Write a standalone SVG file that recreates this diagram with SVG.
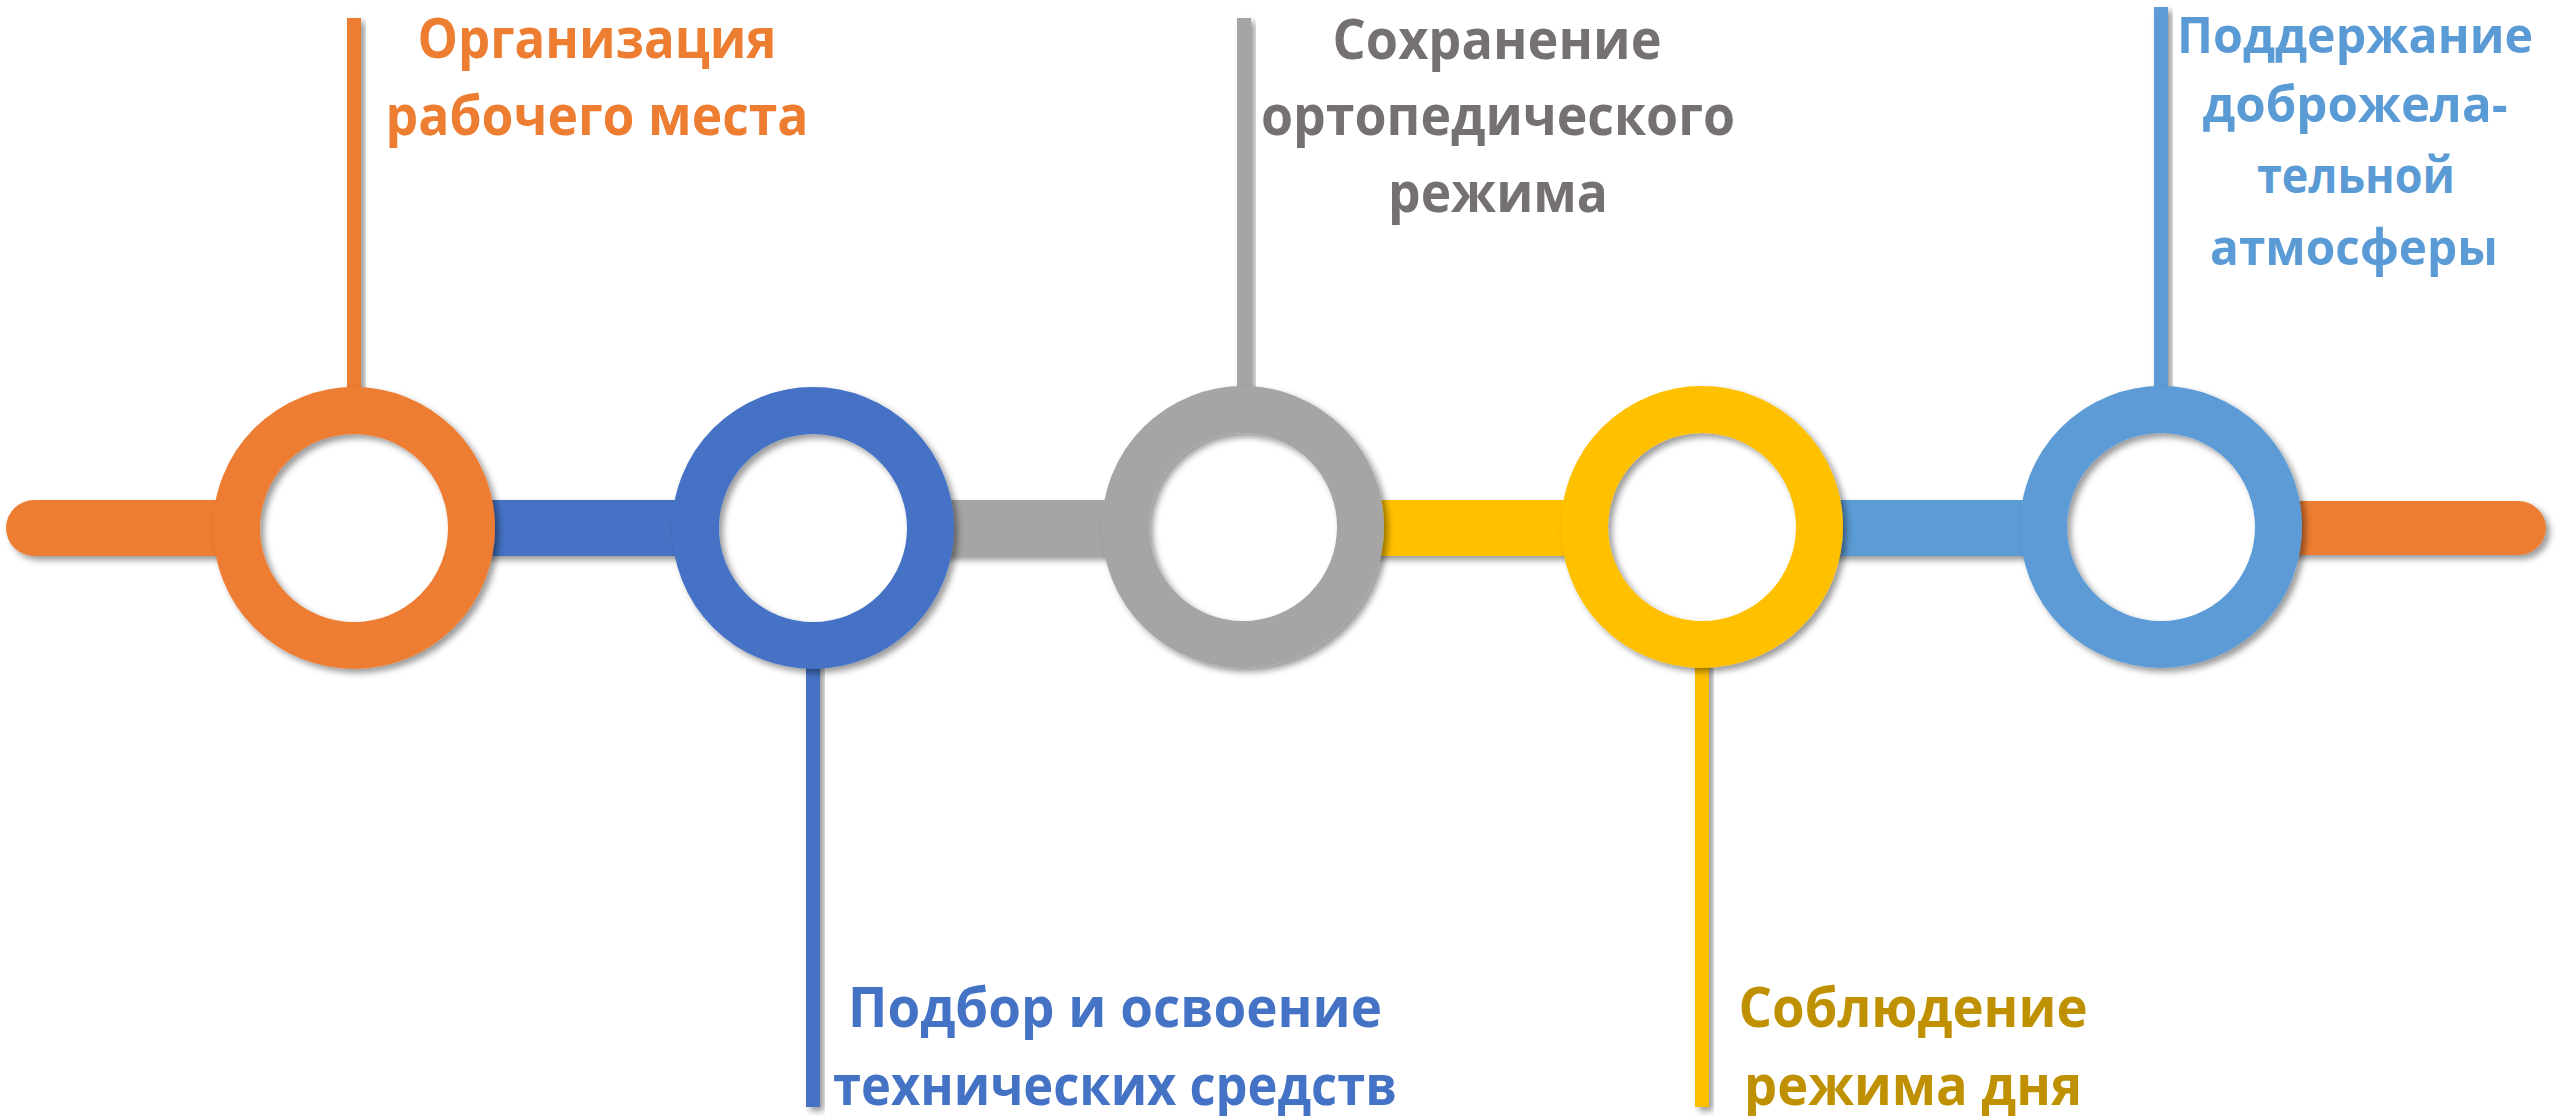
<svg xmlns="http://www.w3.org/2000/svg" width="2560" height="1116" viewBox="0 0 2560 1116">
<defs>
<filter id="sh" x="-20%" y="-20%" width="150%" height="150%">
<feDropShadow dx="4" dy="4" stdDeviation="3" flood-color="#000" flood-opacity="0.4"/>
</filter>
<style>
.ring{fill:none;stroke-width:47;filter:url(#sh)}
.bar{filter:url(#sh)}
.stick{filter:url(#sh)}
text{font-family:"Open Sans","Noto Sans",sans-serif;font-weight:bold;text-anchor:middle}
.t1{font-size:56px;fill:#ED7D31}
.t2{font-size:56px;fill:#767171}
.t3{font-size:51px;fill:#5B9BD5}
.t4{font-size:56px;fill:#4472C4}
.t5{font-size:56px;fill:#BF9000}
</style>
</defs>
<rect width="2560" height="1116" fill="#fff"/>
<g id="connectors">
<path class="bar" d="M34 500 H250 V556 H34 A28 28 0 0 1 34 500 Z" fill="#ED7D31"/>
<rect class="bar" x="464" y="500" width="239" height="56" fill="#4472C4"/>
<rect class="bar" x="923" y="500" width="210" height="56" fill="#A5A5A5"/>
<rect class="bar" x="1353" y="500" width="239" height="56" fill="#FFC000"/>
<rect class="bar" x="1812" y="500" width="239" height="56" fill="#5B9BD5"/>
<path class="bar" d="M2271 501 H2518 A28 27 0 0 1 2518 555 H2271 Z" fill="#ED7D31"/>
<rect class="stick" x="347" y="18" width="14" height="390" fill="#ED7D31"/>
<rect class="stick" x="806" y="650" width="14" height="457" fill="#4472C4"/>
<rect class="stick" x="1237" y="18" width="14" height="390" fill="#A5A5A5"/>
<rect class="stick" x="1695" y="650" width="14" height="457" fill="#FFC000"/>
<rect class="stick" x="2154" y="7" width="14" height="401" fill="#5B9BD5"/>
</g>
<g id="node1">
<circle class="ring" cx="354" cy="528" r="117.5" stroke="#ED7D31"/>
<text class="t1" x="597" y="58" textLength="359" lengthAdjust="spacingAndGlyphs">Организация</text>
<text class="t1" x="597" y="135" textLength="423" lengthAdjust="spacingAndGlyphs">рабочего места</text>
</g>
<g id="node2">
<circle class="ring" cx="813" cy="528" r="117.5" stroke="#4472C4"/>
<text class="t4" x="1115" y="1027" textLength="534" lengthAdjust="spacingAndGlyphs">Подбор и освоение</text>
<text class="t4" x="1115" y="1105" textLength="564" lengthAdjust="spacingAndGlyphs">технических средств</text>
</g>
<g id="node3">
<circle class="ring" cx="1243" cy="527" r="117.5" stroke="#A5A5A5"/>
<text class="t2" x="1497" y="59" textLength="329" lengthAdjust="spacingAndGlyphs">Сохранение</text>
<text class="t2" x="1498" y="135" textLength="474" lengthAdjust="spacingAndGlyphs">ортопедического</text>
<text class="t2" x="1498" y="212" textLength="220" lengthAdjust="spacingAndGlyphs">режима</text>
</g>
<g id="node4">
<circle class="ring" cx="1702" cy="527" r="117.5" stroke="#FFC000"/>
<text class="t5" x="1913" y="1027" textLength="349" lengthAdjust="spacingAndGlyphs">Соблюдение</text>
<text class="t5" x="1913" y="1105" textLength="338" lengthAdjust="spacingAndGlyphs">режима дня</text>
</g>
<g id="node5">
<circle class="ring" cx="2161" cy="527" r="117.5" stroke="#5B9BD5"/>
<text class="t3" x="2355" y="53" textLength="356" lengthAdjust="spacingAndGlyphs">Поддержание</text>
<text class="t3" x="2355" y="122" textLength="305" lengthAdjust="spacingAndGlyphs">доброжела-</text>
<text class="t3" x="2356" y="193" textLength="198" lengthAdjust="spacingAndGlyphs">тельной</text>
<text class="t3" x="2354" y="265" textLength="288" lengthAdjust="spacingAndGlyphs">атмосферы</text>
</g>
</svg>
